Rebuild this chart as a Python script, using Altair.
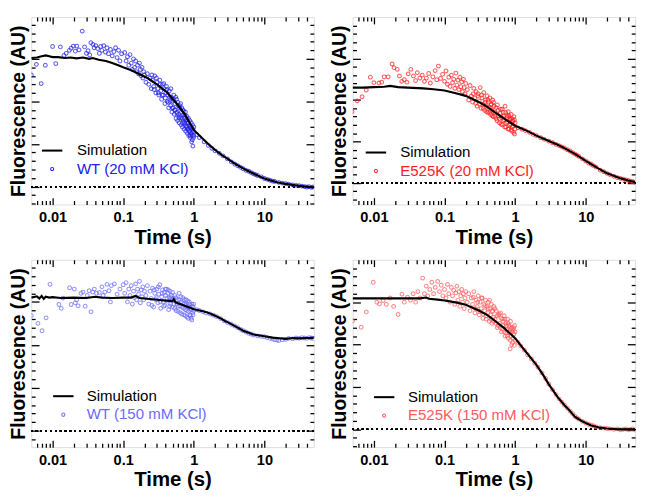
import altair as alt
import pandas as pd

FONT = "Liberation Sans"

# ---------------- axis tick values ----------------
MAJ_X = [0.01, 0.1, 1, 10]
MIN_X = [0.006, 0.007, 0.008, 0.009, 0.02, 0.03, 0.04, 0.05, 0.06, 0.07, 0.08, 0.09,
         0.2, 0.3, 0.4, 0.5, 0.6, 0.7, 0.8, 0.9, 2, 3, 4, 5, 6, 7, 8, 9, 20, 30, 40]
MAJ_Y = [0, 1, 2, 3]
MIN_Y = [-0.4, -0.2, 0.2, 0.4, 0.6, 0.8, 1.2, 1.4, 1.6, 1.8, 2.2, 2.4, 2.6, 2.8,
         3.2, 3.4, 3.6, 3.8]
X_DOMAIN = [0.005, 50]

# times of the extra (second-pass) readings in the dense 0.25-1 s band, shared by all panels
band_t = [0.255, 0.275, 0.295, 0.315, 0.335, 0.355, 0.375, 0.395, 0.415, 0.435, 0.455, 0.475,
          0.495, 0.515, 0.535, 0.555, 0.575, 0.595, 0.615, 0.635, 0.655, 0.675, 0.695, 0.715,
          0.735, 0.755, 0.775, 0.795, 0.815, 0.835, 0.855, 0.875, 0.895, 0.915, 0.935, 0.955,
          0.975, 0.995]

# ---------------- WT (20 mM KCl) ----------------
wt20_sim_t = [0.005, 0.006, 0.007, 0.008, 0.009, 0.01, 0.012, 0.015, 0.018, 0.022, 0.027, 0.033,
              0.037, 0.045, 0.057, 0.07, 0.085, 0.1, 0.13, 0.16, 0.22, 0.3, 0.42, 0.57, 0.75, 1.0,
              1.33, 1.6, 2.0, 2.5, 3.1, 3.8, 4.7, 5.8, 7.1, 8.5, 10, 12, 15, 19, 25, 31, 38, 44, 50]
wt20_sim_y = [3.02, 3.03, 3.06, 3.08, 3.06, 3.04, 3.04, 3.02, 3.03, 3.01, 3.03, 3.0,
              3.02, 2.98, 2.95, 2.90, 2.85, 2.80, 2.73, 2.66, 2.55, 2.40, 2.21, 1.95, 1.69, 1.33,
              1.13, 1.00, 0.86, 0.74, 0.64, 0.54, 0.45, 0.37, 0.30, 0.24, 0.19, 0.15, 0.10, 0.07,
              0.04, 0.02, 0.0, -0.01, -0.02]
wt20_t = [0.005, 0.0059, 0.0069, 0.0079, 0.01, 0.0111, 0.0129, 0.0145, 0.0156, 0.0173, 0.0183,
          0.0197, 0.021, 0.022, 0.0237, 0.0263, 0.0284, 0.0302, 0.0318, 0.0336, 0.0349, 0.0373,
          0.0388, 0.041, 0.0435, 0.046, 0.048, 0.05, 0.053, 0.056, 0.059, 0.062, 0.066, 0.07,
          0.074, 0.078, 0.082, 0.086, 0.09, 0.095,
          0.105, 0.11, 0.115, 0.12, 0.125, 0.13, 0.135, 0.14, 0.145, 0.15, 0.155, 0.16, 0.165,
          0.17, 0.175, 0.18, 0.185, 0.19, 0.195, 0.2,
          0.21, 0.22, 0.23, 0.24, 0.25, 0.26, 0.27, 0.28, 0.29, 0.30, 0.31, 0.32, 0.33, 0.34,
          0.35, 0.36, 0.37, 0.38, 0.39, 0.40, 0.41, 0.42, 0.43, 0.44, 0.45, 0.46, 0.47, 0.48,
          0.49, 0.50,
          0.51, 0.52, 0.53, 0.54, 0.55, 0.56, 0.57, 0.58, 0.59, 0.60, 0.61, 0.62, 0.63, 0.64,
          0.65, 0.66, 0.67, 0.68, 0.69, 0.70, 0.71, 0.72, 0.73, 0.74, 0.75, 0.76, 0.77, 0.78,
          0.79, 0.80, 0.81, 0.82, 0.83, 0.84, 0.85, 0.86, 0.87, 0.88, 0.89, 0.90, 0.91, 0.92,
          0.93, 0.94, 0.95, 0.96, 0.97, 0.98, 0.99, 1.0,
          1.1, 1.2, 1.4, 1.6, 1.8, 2.0, 2.3, 2.6, 3.0, 3.4, 3.8, 4.2, 4.6, 5.0, 5.5, 6.0, 6.5,
          7, 7.5, 8, 9, 10, 11, 12, 13, 14, 16, 18, 20, 22, 25, 28, 31, 34, 37, 40, 43, 46, 49]
wt20_y = [2.62, 2.87, 2.42, 2.85, 3.29, 2.89, 3.28, 3.08, 3.13, 3.2, 3.25,
          3.3, 3.18, 3.3, 3.21, 3.65, 3.28, 3.13, 3.19, 3.09, 3.38, 3.34,
          3.26, 3.31, 3.24, 3.13, 3.29, 3.2, 3.31, 3.16, 3.26, 3.12, 3.22, 3.07,
          3.17, 3.26, 3.03, 3.2, 2.95, 3.12,
          3.15, 2.95, 3.05, 2.85, 3.1, 2.9, 2.75, 3.0, 2.8, 2.95, 2.7, 2.85, 2.65,
          2.9, 2.75, 2.6, 2.8, 2.55, 2.7, 2.62,
          2.45, 2.65, 2.4, 2.55, 2.3, 2.5, 2.35, 2.6, 2.2, 2.45, 2.3, 2.15, 2.5, 2.25,
          2.05, 2.4, 2.15, 2.3, 1.95, 2.2, 2.35, 2.0, 2.15, 1.85, 2.25, 2.0, 1.9, 2.1,
          1.75, 2.0,
          1.85, 2.15, 1.7, 1.95, 1.8, 1.6, 2.05, 1.75, 1.55, 1.9, 1.7, 1.5, 1.85, 1.65,
          1.95, 1.45, 1.75, 1.6, 1.4, 1.8, 1.55, 1.7, 1.35, 1.6, 1.45, 1.75, 1.3, 1.55,
          1.4, 1.65, 1.25, 1.5, 1.35, 1.6, 1.2, 1.45, 1.3, 1.55, 1.15, 1.4, 1.25, 1.5,
          1.05, 1.35, 1.2, 1.45, 0.95, 1.3, 1.15, 1.4,
          1.22, 1.15, 1.05, 0.97, 0.9, 0.84, 0.78, 0.72, 0.65, 0.58, 0.53, 0.49, 0.45, 0.42,
          0.38, 0.36, 0.33, 0.30, 0.28, 0.26, 0.23, 0.19, 0.17, 0.15, 0.13, 0.12, 0.1, 0.08,
          0.07, 0.06, 0.04, 0.03, 0.02, 0.01, 0.0, -0.01, 0.0, -0.02, -0.01]
wt20_band_y = [2.62, 2.28, 2.55, 2.2, 2.4, 2.15, 2.42, 2.08, 2.28, 1.98, 2.1, 2.3, 1.85, 2.05,
               1.8, 2.1, 1.72, 1.98, 1.62, 1.9, 1.62, 1.85, 1.5, 1.78, 1.5, 1.68, 1.42, 1.58,
               1.35, 1.5, 1.32, 1.42, 1.2, 1.38, 1.25, 1.1, 1.35, 1.2]

# ---------------- E525K (20 mM KCl) ----------------
e20_sim_t = [0.005, 0.007, 0.01, 0.014, 0.017, 0.022, 0.03, 0.05, 0.07, 0.1, 0.14, 0.2, 0.3,
             0.4, 0.5, 0.7, 1.0, 1.5, 2, 3, 4, 5, 7, 10, 15, 20, 30, 40, 50]
e20_sim_y = [2.30, 2.30, 2.31, 2.32, 2.34, 2.31, 2.30, 2.28, 2.26, 2.23, 2.17, 2.10, 1.96,
             1.84, 1.72, 1.55, 1.38, 1.25, 1.14, 1.01, 0.92, 0.84, 0.70, 0.53, 0.35, 0.23,
             0.12, 0.06, 0.02]
e20_t = [0.0049, 0.0058, 0.0068, 0.0078, 0.0089, 0.010, 0.0118, 0.0129, 0.014, 0.0159, 0.0181,
         0.0193, 0.0214, 0.023, 0.0248, 0.027, 0.0294, 0.0306, 0.0333, 0.0363, 0.039, 0.0412,
         0.0448, 0.0483, 0.052, 0.0554, 0.0597, 0.063, 0.0685, 0.0737, 0.0777, 0.082, 0.088,
         0.094,
         0.1, 0.105, 0.11, 0.115, 0.12, 0.125, 0.13, 0.135, 0.14, 0.145, 0.15, 0.155, 0.16,
         0.165, 0.17, 0.175, 0.18, 0.185, 0.19, 0.195, 0.2,
         0.21, 0.22, 0.23, 0.24, 0.25, 0.26, 0.27, 0.28, 0.29, 0.30, 0.31, 0.32, 0.33, 0.34,
         0.35, 0.36, 0.37, 0.38, 0.39, 0.40, 0.41, 0.42, 0.43, 0.44, 0.45, 0.46, 0.47, 0.48,
         0.49, 0.50,
         0.52, 0.54, 0.56, 0.58, 0.60, 0.62, 0.64, 0.66, 0.68, 0.70, 0.72, 0.74, 0.76, 0.78,
         0.80, 0.82, 0.84, 0.86, 0.88, 0.90, 0.92, 0.94, 0.96, 0.98, 1.0,
         1.1, 1.25, 1.4, 1.6, 1.8, 2.0, 2.3, 2.6, 3.0, 3.4, 3.8, 4.2, 4.6, 5.0, 5.5, 6.0, 6.5,
         7, 7.5, 8, 9, 10, 11, 12, 13, 14, 16, 18, 20, 22, 25, 28, 31, 34, 37, 40, 43, 46, 49]
e20_y = [1.72, 1.98, 2.08, 2.24, 2.55, 2.42, 2.41, 2.43, 2.56, 2.56, 2.87,
         2.78, 2.74, 2.58, 2.45, 2.49, 2.43, 2.63, 2.74, 2.58, 2.47, 2.66,
         2.53, 2.6, 2.45, 2.53, 2.64, 2.41, 2.56, 2.71, 2.49, 2.82, 2.52,
         2.62,
         2.45, 2.7, 2.38, 2.55, 2.33, 2.6, 2.42, 2.5, 2.28, 2.65, 2.36, 2.48, 2.25,
         2.55, 2.32, 2.44, 2.2, 2.5, 2.3, 2.15, 2.4,
         2.25, 2.0, 2.35, 2.1, 1.95, 2.28, 2.05, 2.2, 1.85, 2.15, 1.98, 2.3, 1.8, 2.05,
         1.9, 2.18, 1.75, 2.0, 1.85, 2.1, 1.7, 1.95, 1.82, 2.05, 1.65, 1.9, 1.75, 2.0,
         1.6, 1.85,
         1.7, 1.55, 1.88, 1.62, 1.45, 1.78, 1.58, 1.4, 1.7, 1.52, 1.85, 1.35, 1.62, 1.48,
         1.72, 1.3, 1.55, 1.42, 1.65, 1.25, 1.5, 1.38, 1.6, 1.18, 1.45,
         1.33, 1.3, 1.26, 1.22, 1.17, 1.14, 1.09, 1.05, 1.01, 0.97, 0.93, 0.9, 0.87, 0.84,
         0.8, 0.77, 0.73, 0.70, 0.67, 0.64, 0.58, 0.53, 0.48, 0.45, 0.41, 0.38, 0.31, 0.27,
         0.23, 0.2, 0.16, 0.13, 0.11, 0.09, 0.07, 0.06, 0.04, 0.03, 0.02]
e20_band_y = [2.15, 1.92, 2.1, 1.9, 2.12, 1.8, 1.95, 1.72, 2.0, 1.7, 1.88, 1.62, 1.95, 1.6,
              1.82, 1.5, 1.75, 1.55, 1.68, 1.42, 1.78, 1.5, 1.62, 1.35, 1.7, 1.45, 1.58, 1.3,
              1.62, 1.4, 1.52, 1.28, 1.55, 1.35, 1.48, 1.22, 1.52, 1.3]

# ---------------- WT (150 mM KCl) ----------------
wt150_sim_t = [0.005, 0.006, 0.0065, 0.007, 0.0075, 0.008, 0.009, 0.01, 0.013, 0.02, 0.03, 0.04,
               0.05, 0.07, 0.1, 0.13, 0.15, 0.17, 0.2, 0.3, 0.4, 0.5, 0.52, 0.55, 0.7, 1.0, 1.3,
               1.6, 2.0, 2.3, 2.5, 2.8, 3.0, 4, 5, 7, 10, 13, 15, 20, 25, 30, 40, 50]
wt150_sim_y = [3.10, 3.13, 3.08, 3.14, 3.07, 3.12, 3.10, 3.11, 3.09, 3.10, 3.09, 3.12,
               3.10, 3.09, 3.10, 3.10, 3.14, 3.09, 3.08, 3.05, 3.03, 3.02, 3.06, 2.99, 2.93,
               2.83, 2.79, 2.75, 2.68, 2.63, 2.60, 2.55, 2.53, 2.42, 2.33, 2.24, 2.20, 2.17,
               2.16, 2.14, 2.16, 2.15, 2.16, 2.16]
wt150_t = [0.005, 0.0062, 0.0071, 0.0081, 0.0092, 0.0123, 0.0133, 0.014, 0.0174, 0.0183, 0.0203,
           0.021, 0.022, 0.023, 0.0253, 0.027, 0.029, 0.031, 0.033, 0.035, 0.037, 0.039, 0.042,
           0.046, 0.05, 0.052, 0.055, 0.059, 0.063, 0.066, 0.068, 0.075, 0.082, 0.09,
           0.1, 0.105, 0.11, 0.115, 0.12, 0.125, 0.13, 0.135, 0.14, 0.145, 0.15, 0.155, 0.16,
           0.165, 0.17, 0.175, 0.18, 0.185, 0.19, 0.195, 0.2,
           0.21, 0.22, 0.23, 0.24, 0.25, 0.26, 0.27, 0.28, 0.29, 0.30, 0.31, 0.32, 0.33, 0.34,
           0.35, 0.36, 0.37, 0.38, 0.39, 0.40, 0.41, 0.42, 0.43, 0.44, 0.45, 0.46, 0.47, 0.48,
           0.49, 0.50,
           0.52, 0.54, 0.56, 0.58, 0.60, 0.62, 0.64, 0.66, 0.68, 0.70, 0.72, 0.74, 0.76, 0.78,
           0.80, 0.82, 0.84, 0.86, 0.88, 0.90, 0.92, 0.94, 0.96, 0.98, 1.0,
           1.1, 1.2, 1.35, 1.5, 1.7, 1.9, 2.1, 2.4, 2.7, 3.0, 3.4, 3.8, 4.2, 4.6, 5.0, 5.5, 6,
           6.5, 7, 8, 9, 10, 11, 12, 13, 14, 15, 16, 18, 20, 22, 25, 28, 31, 34, 37, 40, 43,
           46, 49]
wt150_y = [2.68, 2.5, 2.33, 2.63, 3.41, 2.94, 2.85, 3.09, 3.33, 2.94, 3.3,
           2.98, 3.05, 2.91, 3.2, 3.23, 2.9, 3.15, 3.26, 2.77, 3.23, 3.3, 3.2,
           3.22, 3.35, 3.15, 3.23, 3.41, 3.26, 3.0, 3.38, 3.42, 3.18, 3.3,
           3.4, 3.2, 3.45, 3.0, 3.3, 3.15, 3.38, 2.95, 3.25, 3.1, 3.42, 3.05, 3.3,
           3.18, 3.48, 2.98, 3.28, 3.12, 3.35, 3.05, 3.25,
           3.15, 3.38, 2.95, 3.25, 3.08, 3.32, 2.88, 3.2, 3.05, 3.3, 2.98, 3.18, 3.4, 2.85,
           3.12, 3.28, 3.0, 3.22, 2.92, 3.15, 3.3, 3.02, 3.2, 2.82, 3.1, 3.25, 2.95, 3.15,
           3.05, 3.22,
           2.95, 3.15, 2.8, 3.05, 2.9, 3.2, 2.75, 3.0, 2.88, 3.1, 2.7, 2.95, 2.82, 3.05,
           2.65, 2.9, 2.78, 3.0, 2.7, 2.85, 2.62, 2.95, 2.75, 2.88, 2.8,
           2.82, 2.8, 2.77, 2.74, 2.72, 2.69, 2.66, 2.61, 2.56, 2.52, 2.48, 2.44, 2.4, 2.36,
           2.33, 2.3, 2.27, 2.25, 2.23, 2.21, 2.2, 2.19, 2.17, 2.15, 2.14, 2.12, 2.11, 2.1,
           2.12, 2.13, 2.15, 2.14, 2.16, 2.15, 2.17, 2.16, 2.15, 2.17, 2.16, 2.15]
wt150_band_y = [2.92, 3.28, 3.1, 3.35, 3.0, 3.2, 2.9, 3.3, 3.08, 3.28, 2.9, 3.1, 2.88, 3.08,
                2.85, 3.1, 2.95, 2.78, 3.05, 2.9, 3.12, 2.72, 2.98, 2.85, 3.05, 2.68, 2.92,
                2.8, 3.02, 2.62, 2.88, 2.95, 2.68, 2.82, 2.58, 2.9, 2.7, 2.95]

# ---------------- E525K (150 mM KCl) ----------------
e150_sim_t = [0.005, 0.01, 0.02, 0.03, 0.045, 0.055, 0.06, 0.08, 0.1, 0.15, 0.2, 0.3, 0.4,
              0.5, 0.7, 1.0, 1.2, 1.5, 2, 2.5, 3, 4, 5, 6, 7, 8.5, 10, 12, 15, 20, 30, 40, 50]
e150_sim_y = [3.09, 3.09, 3.09, 3.09, 3.09, 3.11, 3.08, 3.06, 3.04, 2.99, 2.94, 2.81, 2.70,
              2.58, 2.39, 2.15, 1.98, 1.78, 1.52, 1.28, 1.06, 0.76, 0.57, 0.43, 0.30, 0.21,
              0.15, 0.09, 0.05, 0.02, 0.0, 0.0, 0.0]
e150_t = [0.005, 0.0066, 0.0078, 0.0098, 0.011, 0.012, 0.0135, 0.015, 0.017, 0.019, 0.022,
          0.025, 0.027, 0.03, 0.033, 0.036, 0.039, 0.042, 0.045, 0.049, 0.052, 0.055, 0.058,
          0.062, 0.066, 0.07, 0.074, 0.08, 0.085, 0.09, 0.095,
          0.1, 0.105, 0.11, 0.115, 0.12, 0.125, 0.13, 0.135, 0.14, 0.145, 0.15, 0.155, 0.16,
          0.165, 0.17, 0.175, 0.18, 0.185, 0.19, 0.195, 0.2,
          0.21, 0.22, 0.23, 0.24, 0.25, 0.26, 0.27, 0.28, 0.29, 0.30, 0.31, 0.32, 0.33, 0.34,
          0.35, 0.36, 0.37, 0.38, 0.39, 0.40, 0.41, 0.42, 0.43, 0.44, 0.45, 0.46, 0.47, 0.48,
          0.49, 0.50,
          0.52, 0.54, 0.56, 0.58, 0.60, 0.62, 0.64, 0.66, 0.68, 0.70, 0.72, 0.74, 0.76, 0.78,
          0.80, 0.82, 0.84, 0.85, 0.86, 0.88, 0.90, 0.92, 0.94, 0.96, 0.98, 1.0,
          1.1, 1.2, 1.35, 1.5, 1.7, 1.9, 2.1, 2.4, 2.7, 3.0, 3.4, 3.8, 4.2, 4.6, 5.0, 5.5, 6,
          6.5, 7, 7.5, 8, 9, 10, 11, 12, 13, 14, 16, 18, 20, 22, 25, 28, 31, 34, 37, 40, 43,
          46, 49]
e150_y = [2.56, 2.41, 2.77, 3.47, 3.0, 2.96, 3.04, 2.95, 3.1, 2.9, 2.71,
          3.19, 3.0, 3.12, 3.05, 3.2, 3.0, 3.25, 3.1, 3.57, 3.2, 3.38, 3.15,
          3.3, 3.47, 3.2, 3.35, 3.49, 3.25, 3.4, 3.15,
          3.3, 3.1, 3.42, 3.2, 3.0, 3.35, 3.15, 3.28, 2.95, 3.22, 3.38, 3.05, 3.25,
          2.9, 3.15, 3.3, 3.0, 3.2, 2.85, 3.1, 3.25,
          3.0, 3.2, 2.8, 3.1, 2.95, 3.25, 2.75, 3.05, 2.9, 3.15, 2.7, 3.0, 2.85, 3.1,
          2.62, 2.95, 2.8, 3.05, 2.6, 2.9, 2.75, 3.0, 2.55, 2.85, 2.7, 2.95, 2.5, 2.8,
          2.65, 2.9,
          2.6, 2.8, 2.4, 2.7, 2.5, 2.75, 2.3, 2.6, 2.45, 2.68, 2.2, 2.5, 2.35, 2.6,
          2.15, 2.45, 2.3, 1.9, 2.55, 2.2, 2.4, 2.05, 2.35, 2.25, 2.45, 2.1,
          2.05, 1.97, 1.87, 1.76, 1.66, 1.56, 1.47, 1.33, 1.2, 1.07, 0.93, 0.82, 0.72, 0.64,
          0.57, 0.5, 0.43, 0.37, 0.31, 0.27, 0.24, 0.19, 0.15, 0.12, 0.1, 0.08, 0.06, 0.04,
          0.03, 0.02, 0.01, 0.0, 0.01, -0.01, 0.0, 0.01, -0.01, 0.0, 0.01, -0.01]
e150_band_y = [3.12, 2.85, 3.0, 2.78, 3.1, 2.72, 2.92, 2.68, 2.85, 3.05, 2.6, 2.78, 2.55, 2.85,
               2.5, 2.68, 2.45, 2.72, 2.4, 2.62, 2.38, 2.55, 2.3, 2.6, 2.28, 2.45, 2.2, 2.5,
               2.28, 2.42, 2.1, 2.38, 2.0, 2.3, 2.15, 2.4, 1.98, 2.3]

W, H = 291, 193

# legend symbol shapes (unit box -1..1): a short bar for the line, a small ring for the data
LINE_SHAPE = "M-1,-0.1L1,-0.1L1,0.1L-1,0.1Z"
RING_SHAPE = ("M0.2,0A0.2,0.2,0,1,1,-0.2,0A0.2,0.2,0,1,1,0.2,0Z"
              "M0.1,0A0.1,0.1,0,1,0,-0.1,0A0.1,0.1,0,1,0,0.1,0Z")


def tick_axis(orient, values, size):
    return alt.Axis(orient=orient, values=values, labels=False, title=None, domain=False,
                    grid=False, ticks=True, tickSize={"expr": str(-size)},
                    tickColor="black", tickWidth=1.3, minExtent=0, maxExtent=0)


def panel(sim_t, sim_y, t, y, band_y, label, color, ydom, lg):
    sim = pd.DataFrame({"t": sim_t, "f": sim_y, "s": ["Simulation"] * len(sim_t)})
    all_t = list(t) + list(band_t)
    all_y = list(y) + list(band_y)
    dat = pd.DataFrame({"t": all_t, "f": all_y, "s": [label] * len(all_t)})
    xs = alt.Scale(type="log", domain=X_DOMAIN, nice=False)
    ys = alt.Scale(domain=ydom, nice=False, zero=False)
    miny = [v for v in MIN_Y if ydom[0] < v < ydom[1]]
    majy = [v for v in MAJ_Y if ydom[0] < v < ydom[1]]

    x_lab = alt.Axis(orient="bottom", values=MAJ_X, ticks=False, domain=False, grid=False,
                     labelExpr="datum.value < 1 ? format(datum.value, '.2~f') : format(datum.value, 'd')",
                     labelFont=FONT, labelFontSize=15, labelFontWeight="bold", labelColor="black",
                     labelPadding=6, labelFlush=False, title="Time (s)", titleFont=FONT,
                     titleFontSize=21, titleFontWeight="bold", titleColor="black", titlePadding=2)
    y_lab = alt.Axis(orient="left", values=majy, labels=False, ticks=False, domain=False,
                     grid=False, title="Fluorescence (AU)", titleFont=FONT, titleFontSize=20,
                     titleFontWeight="bold", titleColor="black", titlePadding=3, minExtent=0)

    x0, yl, tx, rp = lg
    legend = alt.Legend(orient="none", legendX=x0, legendY=yl - 14, title=None,
                        labelFont=FONT, labelFontSize=15.5, labelOffset=tx - x0 - 18,
                        labelLimit=0,
                        labelColor={"expr": f"datum.value == 'Simulation' ? 'black' : '{color}'"},
                        symbolSize=441, symbolStrokeWidth=0, symbolOpacity=1,
                        padding=0, rowPadding=rp, offset=0)
    domain = ["Simulation", label]

    pts = alt.Chart(dat).mark_point(filled=False, size=15, strokeWidth=1.05, clip=True,
                                    color=color).encode(
        x=alt.X("t:Q", scale=xs, axis=x_lab),
        y=alt.Y("f:Q", scale=ys, axis=y_lab),
    )
    line = alt.Chart(sim).mark_line(strokeWidth=2.2, clip=True, color="black").encode(
        x=alt.X("t:Q", scale=xs, axis=tick_axis("bottom", MAJ_X, 7)),
        y=alt.Y("f:Q", scale=ys, axis=tick_axis("left", majy, 8)),
    )
    base = alt.Chart(sim).mark_rule(color="black", strokeWidth=1.4, strokeDash=[1.5, 3.5]).encode(
        y=alt.YDatum(0, type="quantitative", scale=ys, axis=None)
    )
    c1 = alt.Chart(sim).mark_point(opacity=0, filled=True).encode(
        x=alt.X("t:Q", scale=xs, axis=tick_axis("bottom", MIN_X, 4)),
        y=alt.Y("f:Q", scale=ys, axis=tick_axis("left", miny, 4)),
        color=alt.Color("s:N", scale=alt.Scale(domain=domain, range=["black", color]),
                        legend=legend),
        shape=alt.Shape("s:N", scale=alt.Scale(domain=domain, range=[LINE_SHAPE, RING_SHAPE]),
                        legend=legend),
    )
    c2 = alt.Chart(sim).mark_point(opacity=0).encode(
        x=alt.X("t:Q", scale=xs, axis=tick_axis("top", MAJ_X, 7)),
        y=alt.Y("f:Q", scale=ys, axis=tick_axis("right", majy, 8)),
    )
    c3 = alt.Chart(sim).mark_point(opacity=0).encode(
        x=alt.X("t:Q", scale=xs, axis=tick_axis("top", MIN_X, 4)),
        y=alt.Y("f:Q", scale=ys, axis=tick_axis("right", miny, 4)),
    )
    return alt.layer(base, pts, line, c1, c2, c3).resolve_axis(
        x="independent", y="independent").properties(width=W, height=H)


p1 = panel(wt20_sim_t, wt20_sim_y, wt20_t, wt20_y, wt20_band_y, "WT (20 mM KCl)", "#2020e6",
           [-0.42, 3.98], (11, 141, 44, -2))
p2 = panel(e20_sim_t, e20_sim_y, e20_t, e20_y, e20_band_y, "E525K (20 mM KCl)", "#ff1c1c",
           [-0.52, 4.0], (13.5, 143, 46, -0.5))
p3 = panel(wt150_sim_t, wt150_sim_y, wt150_t, wt150_y, wt150_band_y, "WT (150 mM KCl)", "#6a6aff",
           [-0.38, 3.98], (22.5, 144, 54, -3.5))
p4 = panel(e150_sim_t, e150_sim_y, e150_t, e150_y, e150_band_y, "E525K (150 mM KCl)", "#ff5a5a",
           [-0.42, 4.0], (22, 145, 54, -1))

top = alt.hconcat(p1, p2, spacing=12).resolve_scale(color="independent", shape="independent",
                                                    x="independent", y="independent")
bottom = alt.hconcat(p3, p4, spacing=12).resolve_scale(color="independent", shape="independent",
                                                       x="independent", y="independent")
chart = alt.vconcat(top, bottom, spacing=10).resolve_scale(
    color="independent", shape="independent", x="independent", y="independent"
).configure_view(stroke="black", strokeWidth=1.8).configure(background="white", padding=0)

chart.save("out.html", embed_options={"renderer": "svg", "actions": False})
